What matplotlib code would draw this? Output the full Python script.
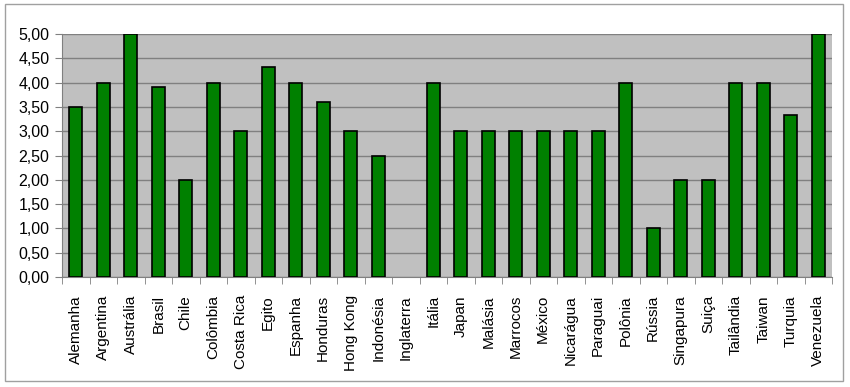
import matplotlib
matplotlib.use("Agg")
import matplotlib.pyplot as plt
from matplotlib.patches import Rectangle
from matplotlib.ticker import FixedLocator, NullFormatter
import numpy as np

countries = ["Alemanha", "Argentina", "Austrália", "Brasil", "Chile", "Colômbia",
             "Costa Rica", "Egito", "Espanha", "Honduras", "Hong Kong", "Indonésia",
             "Inglaterra", "Itália", "Japan", "Malásia", "Marrocos", "México",
             "Nicarágua", "Paraguai", "Polônia", "Rússia", "Singapura", "Suiça",
             "Tailândia", "Taiwan", "Turquia", "Venezuela"]
values = [3.5, 4.0, 5.0, 3.9, 2.0, 4.0, 3.0, 4.33, 4.0, 3.6, 3.0, 2.5,
          0.0, 4.0, 3.0, 3.0, 3.0, 3.0, 3.0, 3.0, 4.0, 1.0, 2.0, 2.0,
          4.0, 4.0, 3.33, 5.0]
yticks = [0, 0.5, 1.0, 1.5, 2.0, 2.5, 3.0, 3.5, 4.0, 4.5, 5.0]
ytick_labels = ["0,00", "0,50", "1,00", "1,50", "2,00", "2,50", "3,00",
                "3,50", "4,00", "4,50", "5,00"]

plt.rcParams['font.family'] = ['Liberation Sans', 'DejaVu Sans']

fig = plt.figure(figsize=(8.5, 3.87), dpi=100)
ax = fig.add_axes([62/850, 1-277/387, (832-62)/850, (277-34)/387])

x = np.arange(len(countries))
ax.set_facecolor("#C0C0C0")
ax.set_axisbelow(True)
ax.yaxis.grid(True, color="#808080", linewidth=1)
lws = [1.2 if v > 0 else 0 for v in values]
ax.bar(x, values, width=0.46, color="#008000", edgecolor="black", linewidth=lws, zorder=3)

ax.set_xlim(-0.5, len(countries) - 0.5)
ax.set_ylim(0, 5)
ax.set_yticks(yticks)
ax.set_yticklabels(ytick_labels, fontsize=11.5)
ax.set_xticks(x)
ax.set_xticklabels(countries, rotation=90, fontsize=11)
ax.tick_params(axis='x', length=0, pad=13)
ax.xaxis.set_minor_locator(FixedLocator(np.arange(-0.5, len(countries), 1)))
ax.xaxis.set_minor_formatter(NullFormatter())
ax.tick_params(axis='x', which='minor', length=5, color="#808080", direction='out')
ax.tick_params(axis='y', length=5, color="#808080", direction='out', pad=4)

for side in ['left', 'bottom']:
    ax.spines[side].set_color("#808080")
for side in ['top', 'right']:
    ax.spines[side].set_visible(False)

fig.patches.append(Rectangle((5/850, 1-381/387), (843-5)/850, (381-4)/387,
                             transform=fig.transFigure, fill=False,
                             edgecolor="#A0A0A0", linewidth=1))

fig.savefig("out.png", dpi=100)
